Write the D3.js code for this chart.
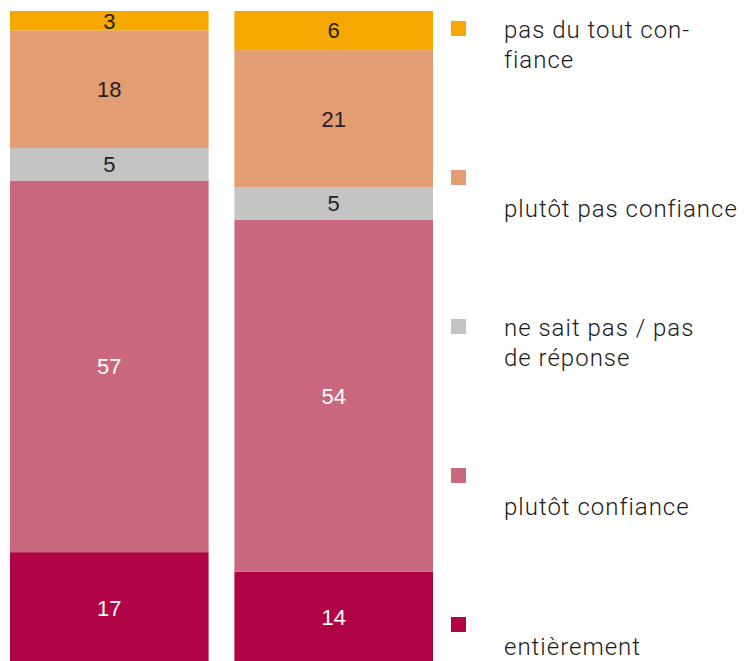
<!DOCTYPE html>
<html>
<head>
<meta charset="utf-8">
<script src="https://cdn.jsdelivr.net/npm/d3@7"></script>
<style>
  body { margin: 0; background: #fff; }
  svg { display: block; }
</style>
</head>
<body>
<div id="chart"></div>
<script>
// two stacked 100% bars (category names are not visible in the picture)
const groups = ['barre 1', 'barre 2'];
const series = ['entièrement', 'plutôt confiance', 'ne sait pas / pas de réponse', 'plutôt pas confiance', 'pas du tout confiance'];
const entierement = [17, 14];
const plutotConfiance = [57, 54];
const neSaitPas = [5, 5];
const plutotPas = [18, 21];
const pasDuTout = [3, 6];
const colors = ['#b00446', '#c9677f', '#c4c4c3', '#e39d72', '#f5a800'];
const labelColors = ['#fff', '#fff', '#222', '#222', '#222'];

// legend, top to bottom, with its line breaks
const legendKeys = [4, 3, 2, 1, 0];
const legendLines = [
  ['pas du tout con-', 'fiance'],
  ['', 'plutôt pas confiance'],
  ['ne sait pas / pas', 'de réponse'],
  ['', 'plutôt confiance'],
  ['', 'entièrement']
];

const width = 745;
const height = 661;

const data = groups.map((g, i) => ({
  group: g,
  'entièrement': entierement[i],
  'plutôt confiance': plutotConfiance[i],
  'ne sait pas / pas de réponse': neSaitPas[i],
  'plutôt pas confiance': plutotPas[i],
  'pas du tout confiance': pasDuTout[i]
}));

const stack = d3.stack().keys(series)(data);

const svg = d3.select('#chart')
  .append('svg')
  .attr('width', width)
  .attr('height', height);

const x = d3.scaleBand()
  .domain(groups)
  .range([10, 433])
  .paddingInner(0.115);

const y = d3.scaleLinear()
  .domain([0, 100])
  .range([663, 11]);

const layer = svg.append('g')
  .selectAll('g')
  .data(stack)
  .join('g')
  .attr('fill', (d, i) => colors[i]);

layer.selectAll('rect')
  .data(d => d)
  .join('rect')
  .attr('x', d => x(d.data.group))
  .attr('y', d => y(d[1]))
  .attr('width', x.bandwidth())
  .attr('height', d => y(d[0]) - y(d[1]));

layer.selectAll('text')
  .data((d, i) => d.map(p => ({p, i})))
  .join('text')
  .attr('x', d => x(d.p.data.group) + x.bandwidth() / 2)
  .attr('y', d => (y(d.p[0]) + y(d.p[1])) / 2)
  .attr('dy', '0.36em')
  .attr('text-anchor', 'middle')
  .attr('font-family', 'Liberation Sans, Arial, sans-serif')
  .attr('font-size', '22px')
  .attr('fill', d => labelColors[d.i])
  .text(d => d.p[1] - d.p[0]);

// legend
const legend = svg.append('g')
  .selectAll('g')
  .data(legendKeys)
  .join('g')
  .attr('transform', (k, i) => `translate(451,${21 + i * 149})`);

legend.append('rect')
  .attr('width', 15)
  .attr('height', 15)
  .attr('fill', k => colors[k]);

legend.each(function(k, i) {
  const g = d3.select(this);
  legendLines[i].forEach((line, j) => {
    if (!line) return;
    let base = 17 + j * 30;
    if (21 + i * 149 + base > 655) base = 655 - (21 + i * 149);
    g.append('text')
      .attr('x', 53)
      .attr('y', base)
      .attr('font-family', 'Roboto, sans-serif')
      .attr('font-weight', 300)
      .attr('font-size', '24px')
      .attr('letter-spacing', '1px')
      .attr('fill', '#1a1a1a')
      .text(line);
  });
});
</script>
</body>
</html>
